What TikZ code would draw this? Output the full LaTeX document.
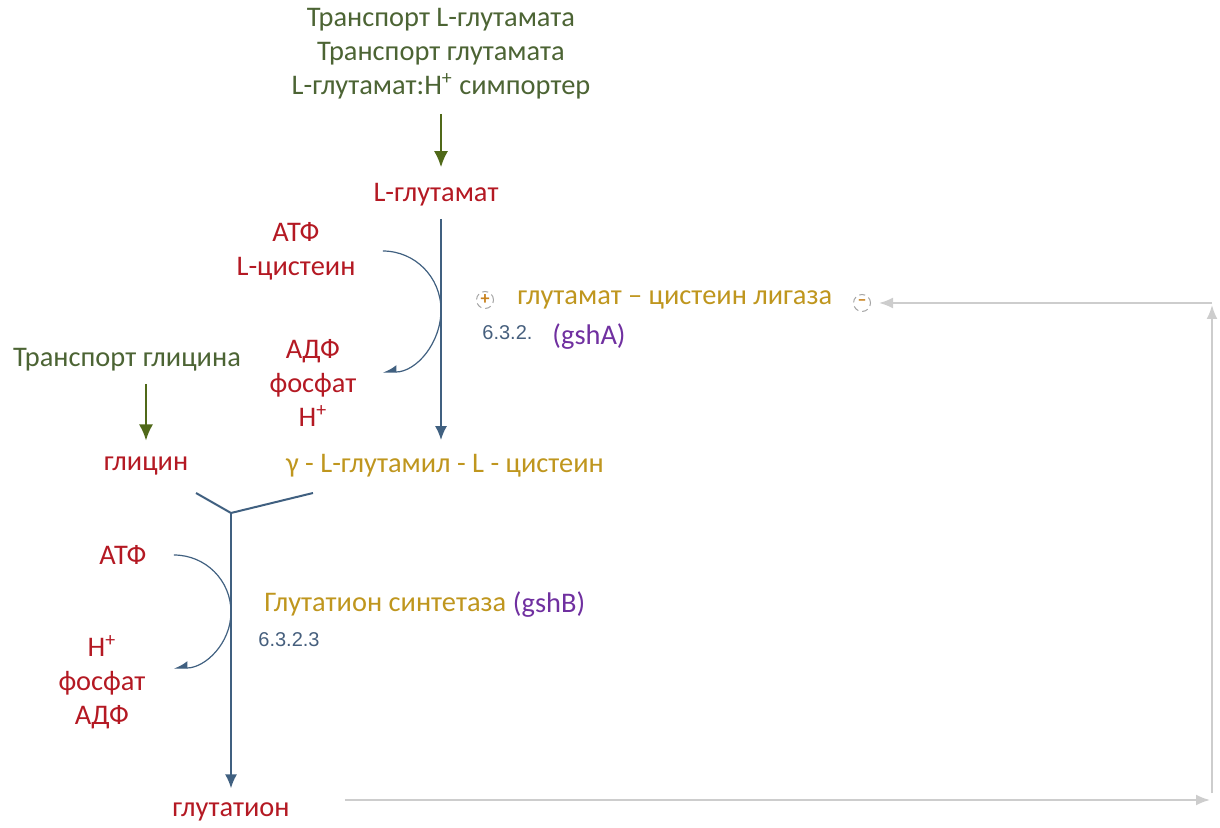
\documentclass[tikz,border=0pt]{standalone}
\usepackage{fontspec}
\setmainfont{Carlito}
\newfontfamily\numfont{Liberation Sans}
\usetikzlibrary{arrows.meta}
\usetikzlibrary{positioning}
\definecolor{trgreen}{RGB}{76,100,52}
\definecolor{arrgreen}{RGB}{80,105,25}
\definecolor{metred}{RGB}{180,25,35}
\definecolor{enzgold}{RGB}{191,150,30}
\definecolor{genepurple}{RGB}{112,48,160}
\definecolor{flowblue}{RGB}{64,96,128}
\definecolor{ecblue}{RGB}{70,95,125}
\definecolor{fbgray}{RGB}{205,205,205}
\definecolor{circgray}{RGB}{165,165,165}
\definecolor{plusorange}{RGB}{200,130,30}

\begin{document}
\begin{tikzpicture}[x=0.5pt, y=0.5pt,
    every node/.style={inner sep=0pt, align=center, font=\fontsize{14.2}{17}\selectfont},
    transport/.style={text=trgreen},
    metab/.style={text=metred},
    enzyme/.style={text=enzgold},
    gene/.style={text=genepurple},
    ecnum/.style={text=ecblue, font=\numfont\fontsize{10}{12}\selectfont},
    supply/.style={draw=arrgreen, line width=1pt, -{Latex[length=8pt,width=7pt]}},
    flux/.style={draw=flowblue, line width=1pt, -{Latex[length=7pt,width=6pt]}},
    side/.style={draw=flowblue, line width=0.6pt, -{Latex[length=6pt,width=7pt,right]}},
    feedback/.style={draw=fbgray, line width=1pt, -{Latex[length=7pt,width=5.5pt]}},
    regcirc/.style={circle, draw=circgray, densely dashed, line width=0.5pt, minimum size=8.5pt,
        font=\fontsize{9}{9}\selectfont\bfseries, text=plusorange}]
    \useasboundingbox (0,0) rectangle (1220,-828);

    % transport and first step
    \node[transport] (glutrans) at (441,-54) {Транспорт L-глутамата\\Транспорт глутамата\\L-глутамат:H\textsuperscript{+} симпортер};
    \node[metab] (glu) at (436,-195) {L-глутамат};
    \node[metab] (in1) at (296,-251) {АТФ\\L-цистеин};
    \node[metab] (out1) at (313,-383) {АДФ\\фосфат\\H\textsuperscript{+}};
    \node[regcirc] (act) at (485,-300) {+};
    \node[enzyme, anchor=west] (lig) at (517,-300) {глутамат – цистеин лигаза};
    \node[regcirc] (inhib) at (862,-303) {\textendash};
    \node[ecnum, anchor=west] (ec1) at (482,-333) {6.3.2.};
    \node[gene, anchor=west] (gshA) at (552,-337) {(gshA)};

    % glycine and second step
    \node[transport] (glytrans) at (127,-360) {Транспорт глицина};
    \node[metab] (gly) at (146,-466) {глицин};
    \node[enzyme] (gcys) at (445,-466) {γ - L-глутамил - L - цистеин};
    \node[metab] (in2) at (123,-555) {АТФ};
    \node[metab] (out2) at (102,-682) {H\textsuperscript{+}\\фосфат\\АДФ};
    \node[enzyme, anchor=west] (gss) at (264,-605) {Глутатион синтетаза};
    \node[gene, right=3pt of gss] (gshB) {(gshB)};
    \node[ecnum, anchor=west] (ec2) at (258,-640) {6.3.2.3};
    \node[metab] (gsh) at (231,-812) {глутатион};

    \coordinate (touch1) at (441,-310);
    \coordinate (touch2) at (231,-612);
    \coordinate (yj) at (231,-513);
    \coordinate (glyend) at (196,-493);
    \coordinate (gcysend) at (313,-493);
    \coordinate (fbA) at ([xshift=27.5pt, yshift=6pt]gsh.east);
    \coordinate (fbB) at (1210,-800);
    \coordinate (fbC) at (1212,-793);
    \coordinate (fbD) at (1212,-305);

    \draw[supply, shorten <=7pt, shorten >=8pt] (glutrans.south) -- (glutrans.south |- glu.north);
    \draw[supply, shorten <=6pt, shorten >=8pt] (glytrans.south -| gly.north) -- (gly.north);
    \draw[flux, shorten <=6pt, shorten >=7pt] (glutrans.south |- glu.south) -- (glutrans.south |- gcys.north);
    \draw[side] ([xshift=13.5pt]in1.east) to[out=0, in=90] (touch1) to[out=-90, in=0] ([xshift=13pt, yshift=5.5pt]out1.east);

    \draw[draw=flowblue, line width=1pt] (glyend) -- (yj) -- (gcysend);
    \draw[flux, shorten >=7pt] (yj) -- (gsh.north);
    \draw[side] ([xshift=13.5pt]in2.east) to[out=0, in=90] (touch2) to[out=-90, in=0] ([xshift=14pt, yshift=7pt]out2.east);

    % feedback
    \draw[feedback] (fbA) -- (fbB);
    \draw[feedback] (fbC) -- (fbD);
    \draw[feedback, shorten >=4pt] (fbD |- inhib) -- (inhib.east);
\end{tikzpicture}
\end{document}
